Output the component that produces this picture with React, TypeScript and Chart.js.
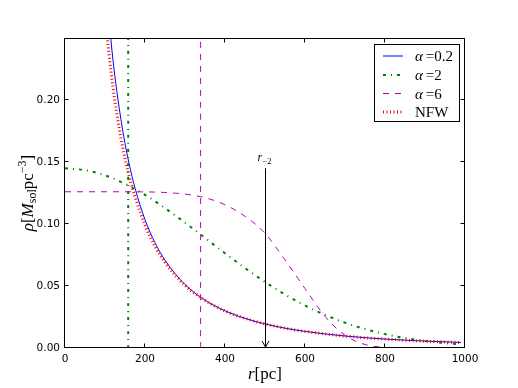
import React, { useEffect, useRef } from "react";
import { Chart, registerables } from "chart.js";

Chart.register(...registerables);

// ---- data ----
const rAlpha02 = [90, 100, 110, 120, 130, 140, 150, 160, 175, 200, 225, 250, 300, 350, 400, 450, 500, 550, 600, 700, 800, 900, 990];
const rhoAlpha02 = [0.354, 0.304, 0.265, 0.232, 0.206, 0.184, 0.165, 0.149, 0.129, 0.1035, 0.0849, 0.0708, 0.0512, 0.0386, 0.03, 0.0239, 0.0194, 0.016, 0.0134, 0.00967, 0.00724, 0.00557, 0.00449];

const rNFW = [90, 100, 110, 120, 130, 140, 150, 160, 175, 200, 225, 250, 300, 350, 400, 450, 500, 550, 600, 700, 800, 900, 990];
const rhoNFW = [0.31, 0.269, 0.237, 0.21, 0.188, 0.169, 0.153, 0.139, 0.122, 0.099, 0.082, 0.069, 0.0505, 0.0384, 0.0299, 0.0239, 0.0194, 0.016, 0.0134, 0.00962, 0.00717, 0.0055, 0.00441];

const rAlpha2 = [0, 50, 100, 150, 200, 250, 300, 350, 400, 450, 500, 550, 600, 650, 700, 750, 800, 850, 900, 950, 990];
const rhoAlpha2 = [0.1449, 0.1434, 0.1392, 0.1324, 0.1235, 0.1128, 0.1011, 0.0888, 0.0764, 0.0645, 0.0533, 0.0432, 0.0343, 0.0267, 0.0204, 0.0153, 0.0112, 0.00805, 0.00568, 0.00392, 0.00287];

const rAlpha6 = [0, 100, 200, 300, 350, 400, 450, 500, 550, 600, 650, 700, 750, 800, 850, 900, 990];
const rhoAlpha6 = [0.126, 0.126, 0.1259, 0.1241, 0.1212, 0.1155, 0.1062, 0.0925, 0.071, 0.048, 0.0255, 0.0103, 0.0028, 0.0005, 0.00005, 0, 0];

// vertical marker lines (r, rho range)
const vlineAlpha2R = 158;
const vlineAlpha6R = 339;
const vlineRho = [0, 0.26];

// arrow annotation r_{-2}
const arrowR = 500;
const arrowRho = [0.145, 0];

const xTicks = [0, 200, 400, 600, 800, 1000];
const yTicks = [0, 0.05, 0.1, 0.15, 0.2];

const DASH_DOT = [3, 5, 1, 5];
const DASHED = [6, 6];
const DOTTED = [1, 2.5];

const legendItems = [
  { greek: "α", rest: "=0.2", color: "#0000ff", dash: [] as number[], width: 1 },
  { greek: "α", rest: "=2", color: "#008000", dash: DASH_DOT, width: 2 },
  { greek: "α", rest: "=6", color: "#bf00bf", dash: DASHED, width: 1 },
  { greek: "", rest: "NFW", color: "#ff0000", dash: DOTTED, width: 3 },
];

const zip = (xs: number[], ys: number[]) => xs.map((x, i) => ({ x, y: ys[i] }));

const SERIF = "'Liberation Serif', 'DejaVu Serif', serif";
const SANS = "'DejaVu Sans', sans-serif";

const decor = {
  id: "decor",
  afterDatasetsDraw(chart: any) {
    const { ctx, chartArea: a, scales } = chart;
    const xs = scales.x;
    const ys = scales.y;
    ctx.save();
    // frame
    ctx.strokeStyle = "#000";
    ctx.lineWidth = 1;
    ctx.setLineDash([]);
    const L = Math.round(a.left) - 0.5;
    const R = Math.round(a.right) - 0.5;
    const T = Math.round(a.top) + 0.5;
    const B = Math.round(a.bottom) - 0.5;
    ctx.strokeRect(L, T, R - L, B - T);
    // inward ticks
    ctx.beginPath();
    xTicks.forEach((v) => {
      const px = Math.round(xs.getPixelForValue(v)) - 0.5;
      ctx.moveTo(px, B);
      ctx.lineTo(px, B - 4);
      ctx.moveTo(px, T);
      ctx.lineTo(px, T + 4);
    });
    yTicks.forEach((v) => {
      const py = Math.round(ys.getPixelForValue(v)) - 0.5;
      ctx.moveTo(L, py);
      ctx.lineTo(L + 4, py);
      ctx.moveTo(R, py);
      ctx.lineTo(R - 4, py);
    });
    ctx.stroke();

    // arrow annotation
    const ax = Math.round(xs.getPixelForValue(arrowR)) + 0.5;
    const ay1 = ys.getPixelForValue(arrowRho[0]);
    const ay2 = ys.getPixelForValue(arrowRho[1]) - 1;
    ctx.beginPath();
    ctx.moveTo(ax, ay1);
    ctx.lineTo(ax, ay2);
    ctx.moveTo(ax - 3.5, ay2 - 6);
    ctx.lineTo(ax, ay2);
    ctx.lineTo(ax + 3.5, ay2 - 6);
    ctx.stroke();
    ctx.fillStyle = "#000";
    ctx.textBaseline = "alphabetic";
    ctx.textAlign = "left";
    ctx.font = `italic 12px ${SERIF}`;
    ctx.fillText("r", ax - 8, ay1 - 7);
    ctx.font = `8.5px ${SERIF}`;
    ctx.fillText("−2", ax - 3, ay1 - 4);

    // legend
    const lx = 374.5, ly = 44.5, lw = 85, lh = 77;
    ctx.fillStyle = "#fff";
    ctx.fillRect(lx, ly, lw, lh);
    ctx.strokeStyle = "#000";
    ctx.lineWidth = 1;
    ctx.strokeRect(lx, ly, lw, lh);
    const rows = [56, 75, 93.5, 112];
    legendItems.forEach((it, i) => {
      const cy = rows[i];
      ctx.save();
      ctx.strokeStyle = it.color;
      ctx.lineWidth = it.width;
      ctx.setLineDash(it.dash);
      ctx.beginPath();
      ctx.moveTo(383, cy);
      ctx.lineTo(403, cy);
      ctx.stroke();
      ctx.restore();
      ctx.fillStyle = "#000";
      let tx = 415;
      if (it.greek) {
        ctx.font = `italic 15px ${SERIF}`;
        ctx.fillText(it.greek, tx, cy + 5);
        tx += ctx.measureText(it.greek).width + 3;
      }
      ctx.font = `15px ${SERIF}`;
      ctx.fillText(it.rest, tx, cy + 5);
    });

    const drawPieces = (pieces: { t: string; f: string; dy: number }[], cx: number, by: number) => {
      let total = 0;
      pieces.forEach((p) => {
        ctx.font = p.f;
        total += ctx.measureText(p.t).width;
      });
      let x = cx - total / 2;
      pieces.forEach((p) => {
        ctx.font = p.f;
        ctx.fillText(p.t, x, by + p.dy);
        x += ctx.measureText(p.t).width;
      });
    };
    ctx.fillStyle = "#000";
    const cxMid = (a.left + a.right) / 2;
    // x axis title: r[pc]
    drawPieces(
      [
        { t: "r", f: `italic 17px ${SERIF}`, dy: 0 },
        { t: "[pc]", f: `17px ${SERIF}`, dy: 0 },
      ],
      cxMid,
      379
    );
    // y axis title
    ctx.save();
    ctx.translate(33, (a.top + a.bottom) / 2);
    ctx.rotate(-Math.PI / 2);
    drawPieces(
      [
        { t: "ρ", f: `italic 17px ${SERIF}`, dy: 0 },
        { t: "[", f: `17px ${SERIF}`, dy: 0 },
        { t: "M", f: `italic 17px ${SERIF}`, dy: 0 },
        { t: "sol", f: `12px ${SERIF}`, dy: 3 },
        { t: "pc", f: `17px ${SERIF}`, dy: 0 },
        { t: "−3", f: `12px ${SERIF}`, dy: -7 },
        { t: "]", f: `17px ${SERIF}`, dy: 0 },
      ],
      0,
      0
    );
    ctx.restore();
    ctx.restore();
  },
};

export default function App() {
  const ref = useRef<HTMLCanvasElement>(null);
  useEffect(() => {
    if (!ref.current) return;
    const common = { pointRadius: 0, fill: false, clip: 0, cubicInterpolationMode: "monotone" as const };
    const chart = new Chart(ref.current, {
      type: "line",
      data: {
        datasets: [
          { ...common, label: "α=0.2", data: zip(rAlpha02, rhoAlpha02), borderColor: "#0000ff", borderWidth: 1, order: 4 },
          { ...common, label: "α=2", data: zip(rAlpha2, rhoAlpha2), borderColor: "#008000", borderWidth: 2, borderDash: DASH_DOT, order: 3 },
          { ...common, label: "α=2 core", data: zip([vlineAlpha2R, vlineAlpha2R], vlineRho), borderColor: "#008000", borderWidth: 2, borderDash: DASH_DOT, order: 3 },
          { ...common, label: "α=6", data: zip(rAlpha6, rhoAlpha6), borderColor: "#bf00bf", borderWidth: 1, borderDash: DASHED, order: 2 },
          { ...common, label: "α=6 core", data: zip([vlineAlpha6R, vlineAlpha6R], vlineRho), borderColor: "#bf00bf", borderWidth: 1, borderDash: DASHED, order: 2 },
          { ...common, label: "NFW", data: zip(rNFW, rhoNFW), borderColor: "#ff0000", borderWidth: 3, borderDash: DOTTED, order: 1 },
        ],
      },
      options: {
        animation: false,
        responsive: false,
        layout: { padding: { left: 0, right: 53, top: 38, bottom: 0 } },
        plugins: { legend: { display: false }, tooltip: { enabled: false } },
        scales: {
          x: {
            type: "linear",
            min: 0,
            max: 1000,
            afterBuildTicks: (s: any) => {
              s.ticks = xTicks.map((v) => ({ value: v }));
            },
            afterFit: (s: any) => {
              s.height = 40;
            },
            grid: { display: false, drawTicks: false },
            border: { display: false },
            ticks: { color: "#000", font: { family: SANS, size: 10.5 }, padding: 5, maxRotation: 0, autoSkip: false, callback: (v: any) => String(v) },
          },
          y: {
            type: "linear",
            min: 0,
            max: 0.25,
            afterBuildTicks: (s: any) => {
              s.ticks = yTicks.map((v) => ({ value: v }));
            },
            afterFit: (s: any) => {
              s.width = 65;
            },
            grid: { display: false, drawTicks: false },
            border: { display: false },
            ticks: { color: "#000", font: { family: SANS, size: 10.5 }, padding: 5, autoSkip: false, callback: (v: any) => Number(v).toFixed(2) },
          },
        },
      },
      plugins: [decor],
    });
    return () => chart.destroy();
  }, []);
  return (
    <div style={{ position: "absolute", left: 0, top: 0, width: 518, height: 388, background: "#fff" }}>
      <canvas ref={ref} width={518} height={388} style={{ display: "block" }} />
    </div>
  );
}
